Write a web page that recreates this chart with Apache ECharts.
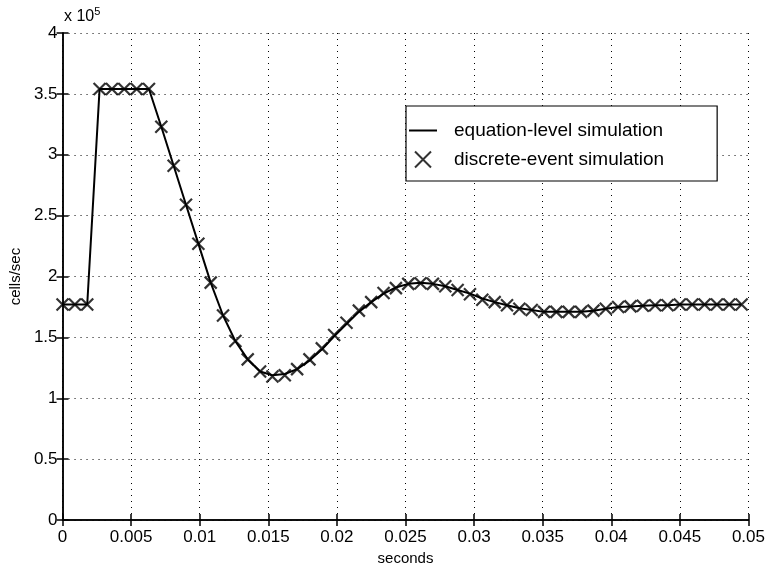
<!DOCTYPE html>
<html>
<head>
<meta charset="utf-8">
<script src="https://cdn.jsdelivr.net/npm/echarts@6/dist/echarts.min.js"></script>
<style>
  html, body { margin: 0; padding: 0; background: #fff; }
  #chart { width: 768px; height: 571px; }
</style>
</head>
<body>
<div id="chart"></div>
<script>
// sample times (seconds)
const times = [
  0, 0.0009, 0.0018, 0.0027, 0.0036, 0.0045, 0.0054, 0.0063, 0.0072, 0.0081,
  0.009, 0.0099, 0.0108, 0.0117, 0.0126, 0.0135, 0.0144, 0.0153, 0.0162, 0.0171,
  0.018, 0.0189, 0.0198, 0.0207, 0.0216, 0.0225, 0.0234, 0.0243, 0.0252, 0.0261,
  0.027, 0.0279, 0.0288, 0.0297, 0.0306, 0.0315, 0.0324, 0.0333, 0.0342, 0.0351,
  0.036, 0.0369, 0.0378, 0.0387, 0.0396, 0.0405, 0.0414, 0.0423, 0.0432, 0.0441,
  0.045, 0.0459, 0.0468, 0.0477, 0.0486, 0.0495
];
// cells/sec, in units of 10^5
const equationLevel = [
  1.77, 1.77, 1.77, 3.54, 3.54, 3.54, 3.54, 3.54, 3.23, 2.91,
  2.59, 2.27, 1.95, 1.68, 1.47, 1.32, 1.22, 1.19, 1.20, 1.24,
  1.31, 1.40, 1.51, 1.61, 1.71, 1.79, 1.86, 1.91, 1.94, 1.95,
  1.94, 1.92, 1.89, 1.86, 1.82, 1.79, 1.765, 1.74, 1.725, 1.71,
  1.71, 1.71, 1.71, 1.72, 1.735, 1.75, 1.755, 1.76, 1.765, 1.765,
  1.77, 1.77, 1.77, 1.77, 1.77, 1.77
];
const discreteEvent = [
  1.77, 1.77, 1.77, 3.54, 3.54, 3.54, 3.54, 3.54, 3.23, 2.91,
  2.59, 2.27, 1.95, 1.68, 1.47, 1.32, 1.22, 1.18, 1.19, 1.24,
  1.32, 1.41, 1.52, 1.62, 1.72, 1.79, 1.865, 1.905, 1.94, 1.945,
  1.94, 1.92, 1.89, 1.855, 1.81, 1.79, 1.765, 1.735, 1.725, 1.71,
  1.71, 1.71, 1.71, 1.72, 1.735, 1.75, 1.755, 1.76, 1.765, 1.765,
  1.77, 1.77, 1.77, 1.77, 1.77, 1.77
];
const xTicks = [0, 0.005, 0.01, 0.015, 0.02, 0.025, 0.03, 0.035, 0.04, 0.045, 0.05];
const yTicks = [0, 0.5, 1, 1.5, 2, 2.5, 3, 3.5, 4];

const chartDom = document.getElementById('chart');
const mychart = echarts.init(chartDom);

const fontFamily = '"Liberation Sans", Arial, Helvetica, sans-serif';
const crossPath = 'path://M0,0L10,10M10,0L0,10';
// 图例里的线段
const linePath = 'path://M0,0L28,0L28,2L0,2Z';

const option = {
  animation: false,
  backgroundColor: '#fff',
  textStyle: { fontFamily: fontFamily, color: '#000' },
  grid: { left: 62, right: 19, top: 33, bottom: 47 },
  legend: {
    orient: 'vertical',
    left: 406,
    top: 106,
    padding: [15, 53, 12, 3],
    itemGap: 10,
    itemWidth: 28,
    itemHeight: 16,
    symbolKeepAspect: true,
    borderColor: '#000',
    borderWidth: 1.2,
    backgroundColor: '#fff',
    textStyle: { fontSize: 19, color: '#000', padding: [0, 0, 0, 12] },
    data: [
      {
        name: 'equation-level simulation',
        icon: linePath,
        itemStyle: { color: '#000', borderWidth: 0 }
      },
      {
        name: 'discrete-event simulation',
        icon: crossPath,
        itemStyle: { color: 'rgba(0,0,0,0)', borderColor: '#000', borderWidth: 2 }
      }
    ]
  },
  graphic: [
    {
      type: 'text',
      left: 64,
      top: 6,
      style: {
        text: 'x 10{sup|5}',
        fontFamily: fontFamily,
        fontSize: 16,
        fill: '#000',
        rich: { sup: { fontSize: 11, verticalAlign: 'top', padding: [0, 0, 10, 0] } }
      }
    }
  ],
  xAxis: [
    {
      type: 'value',
      min: xTicks[0],
      max: xTicks[xTicks.length - 1],
      interval: 0.005,
      name: 'seconds',
      nameLocation: 'middle',
      nameGap: 26,
      nameTextStyle: { fontSize: 15, color: '#000', verticalAlign: 'middle' },
      axisLine: { show: true, lineStyle: { color: '#000', width: 1.5 } },
      axisTick: { inside: true, length: 6, lineStyle: { color: '#000', width: 1.5 } },
      axisLabel: { fontSize: 17, color: '#000', margin: 9, formatter: (v) => String(+v.toFixed(3)) },
      splitLine: { show: true, lineStyle: { color: '#000', type: [1, 5], width: 1 } }
    },
    {
      type: 'value',
      position: 'top',
      min: xTicks[0],
      max: xTicks[xTicks.length - 1],
      interval: 0.005,
      axisLine: { show: true, lineStyle: { color: '#000', width: 1.5 } },
      axisTick: { inside: true, length: 6, lineStyle: { color: '#000', width: 1.5 } },
      axisLabel: { show: false },
      splitLine: { show: false }
    }
  ],
  yAxis: [
    {
      type: 'value',
      min: yTicks[0],
      max: yTicks[yTicks.length - 1],
      interval: 0.5,
      name: 'cells/sec',
      nameLocation: 'middle',
      nameGap: 34,
      nameTextStyle: { fontSize: 15, color: '#000' },
      axisLine: { show: true, lineStyle: { color: '#000', width: 1.5 } },
      axisTick: { inside: true, length: 6, lineStyle: { color: '#000', width: 1.5 } },
      axisLabel: { fontSize: 17, color: '#000', margin: 5 },
      splitLine: { show: true, lineStyle: { color: '#000', type: [1, 5], width: 1 } }
    },
    {
      type: 'value',
      position: 'right',
      min: yTicks[0],
      max: yTicks[yTicks.length - 1],
      interval: 0.5,
      axisLine: { show: true, lineStyle: { color: '#000', width: 1.5 } },
      axisTick: { inside: true, length: 6, lineStyle: { color: '#000', width: 1.5 } },
      axisLabel: { show: false },
      splitLine: { show: false }
    }
  ],
  series: [
    {
      name: 'equation-level simulation',
      type: 'line',
      data: times.map((t, i) => [t, equationLevel[i]]),
      symbol: 'none',
      lineStyle: { color: '#000', width: 2 },
      itemStyle: { color: '#000' },
      z: 2
    },
    {
      name: 'discrete-event simulation',
      type: 'scatter',
      data: times.map((t, i) => [t, discreteEvent[i]]),
      symbol: crossPath,
      symbolSize: 12,
      itemStyle: { color: 'rgba(0,0,0,0)', borderColor: '#000', borderWidth: 2.2 },
      z: 3
    }
  ]
};

mychart.setOption(option);

window.addEventListener('resize', () => {
  mychart.resize();
});
</script>
</body>
</html>
